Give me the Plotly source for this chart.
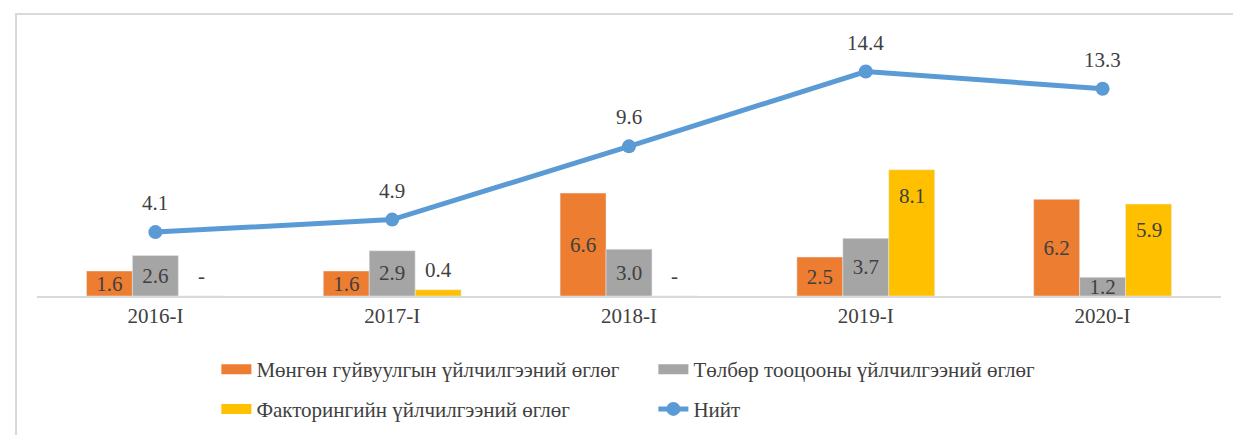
import plotly.graph_objects as go

categories = ["2016-I", "2017-I", "2018-I", "2019-I", "2020-I"]
money_transfer = [1.6, 1.6, 6.6, 2.5, 6.2]
payment_settlement = [2.6, 2.9, 3.0, 3.7, 1.2]
factoring = [0.0, 0.4, 0.0, 8.1, 5.9]
total = [4.1, 4.9, 9.6, 14.4, 13.3]

names = [
    "Мөнгөн гуйвуулгын үйлчилгээний өглөг",
    "Төлбөр тооцооны үйлчилгээний өглөг",
    "Факторингийн үйлчилгээний өглөг",
    "Нийт",
]
colors = ["#ED7D31", "#A5A5A5", "#FFC000", "#5B9BD5"]

FONT = "Liberation Serif, Times New Roman, serif"
TXT = "#404040"
fs = 21

W, H = 1241, 435
ML, MR, MT, MB = 29, 28, 23, 147
BARGAP = 0.418


def fmt(v):
    return "-" if v == 0 else f"{v:.1f}"


fig = go.Figure()
for vals, nm, col in [(money_transfer, names[0], colors[0]),
                      (payment_settlement, names[1], colors[1])]:
    fig.add_trace(go.Bar(
        x=categories, y=vals, name=nm, marker_color=col,
        text=[fmt(v) for v in vals], textposition="inside",
        insidetextanchor="middle", textangle=0, showlegend=False,
    ))
fig.add_trace(go.Bar(x=categories, y=factoring, name=names[2], marker_color=colors[2],
                     showlegend=False))
fig.add_trace(go.Scatter(
    x=categories, y=total, name=names[3], mode="lines+markers",
    line=dict(color=colors[3], width=5), marker=dict(size=14, color=colors[3]),
    legend="legend2",
))

# legend swatches (wide rectangles like the original)
for nm, col, lg in [(names[0], colors[0], "legend"), (names[1], colors[1], "legend"),
                    (names[2], colors[2], "legend2")]:
    fig.add_trace(go.Scatter(x=[None], y=[None], mode="lines", name=nm,
                             line=dict(color=col, width=13), legend=lg,
                             legendrank=1 if lg == "legend2" else 1000))
fig.data[3].legendrank = 2000

# labels for the total line
for c, v in zip(categories, total):
    fig.add_annotation(x=c, y=v, text=fmt(v), showarrow=False, yshift=29,
                       font=dict(family=FONT, size=fs, color=TXT))

# labels for factoring bars (third bar in group)
bar_px = (W - ML - MR) / len(categories) * (1 - BARGAP) / 3
for c, v in zip(categories, factoring):
    big = v >= 1
    fig.add_annotation(x=c, y=v, text=fmt(v), showarrow=False, xshift=bar_px,
                       yshift=-26 if big else 20,
                       font=dict(family=FONT, size=fs, color=TXT))

# outer chart frame
fig.add_shape(type="rect", xref="paper", yref="paper",
              x0=-0.0177, x1=1.2, y0=-0.6, y1=1.064,
              line=dict(color="#D9D9D9", width=2), fillcolor="rgba(0,0,0,0)", layer="below")

fig.update_traces(textfont=dict(family=FONT, size=fs, color=TXT), cliponaxis=False,
                  constraintext="none", selector=dict(type="bar"))

fig.update_layout(
    width=W, height=H,
    margin=dict(l=ML, r=MR, t=MT, b=MB),
    paper_bgcolor="white", plot_bgcolor="white",
    barmode="group", bargap=BARGAP, bargroupgap=0,
    font=dict(family=FONT, size=fs, color=TXT),
    uniformtext=dict(minsize=fs, mode="show"),
    showlegend=True,
    legend=dict(orientation="h", x=0.1515, xanchor="left", y=-0.2, yanchor="top",
                entrywidth=392, entrywidthmode="pixels", traceorder="normal",
                font=dict(family=FONT, size=fs, color=TXT), bgcolor="rgba(0,0,0,0)"),
    legend2=dict(orientation="h", x=0.1515, xanchor="left", y=-0.35, yanchor="top",
                 entrywidth=392, entrywidthmode="pixels", traceorder="normal",
                 font=dict(family=FONT, size=fs, color=TXT), bgcolor="rgba(0,0,0,0)"),
    xaxis=dict(showgrid=False, showline=True, linecolor="#D9D9D9", linewidth=2,
               ticks="", tickfont=dict(family=FONT, size=fs, color=TXT)),
    yaxis=dict(range=[0, 17], showgrid=False, showline=False, showticklabels=False,
               zeroline=False, ticks=""),
)

fig.write_html("out.html")
